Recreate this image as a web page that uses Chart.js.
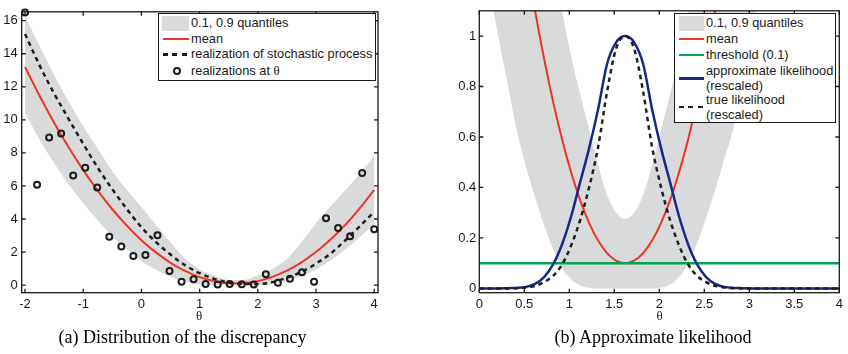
<!DOCTYPE html>
<html>
<head>
<meta charset="utf-8">
<script src="https://cdn.jsdelivr.net/npm/chart.js@4.4.0/dist/chart.umd.min.js"></script>
<style>
html,body{margin:0;padding:0;background:#fff;}
#wrap{position:relative;width:848px;height:354px;overflow:hidden;background:#fff;}
canvas{position:absolute;top:0;}
.box{position:absolute;box-sizing:border-box;border:1.2px solid #1a1a1a;background:#fff;}
.t{position:absolute;font:12.8px/16px "Liberation Sans",Arial,sans-serif;color:#1a1a1a;white-space:nowrap;}
.sw{position:absolute;}
.dash{position:absolute;height:2.5px;background:repeating-linear-gradient(to right,#1e1e1e 0 5px,rgba(0,0,0,0) 5px 9.5px);}
.mk{position:absolute;box-sizing:border-box;width:8px;height:8px;border:2px solid #1c1c1c;border-radius:50%;}
.ser{font-family:"Liberation Serif","Times New Roman",serif;}
.xl{position:absolute;font:13px/16px "Liberation Serif","Times New Roman",serif;color:#1a1a1a;transform:translateX(-50%);}
.cap{position:absolute;font:18px/20px "Liberation Serif","Times New Roman",serif;color:#000;white-space:nowrap;transform:translateX(-50%);}
</style>
</head>
<body>
<div id="wrap">
  <canvas id="cA" width="420" height="330" style="left:0px"></canvas>
  <canvas id="cB" width="424" height="330" style="left:424px"></canvas>

  <!-- legend (a) -->
  <div class="box" style="left:157.5px;top:13px;width:218.5px;height:67.5px;"></div>
  <div class="sw" style="left:162px;top:16px;width:27px;height:15px;background:#d9dadb;"></div>
  <div class="t" style="left:191px;top:15.3px;">0.1, 0.9 quantiles</div>
  <div class="sw" style="left:162.5px;top:38px;width:26px;height:2px;background:rgb(238,52,36);"></div>
  <div class="t" style="left:191px;top:31px;">mean</div>
  <div class="dash" style="left:162.5px;top:53px;width:26px;"></div>
  <div class="t" style="left:191px;top:46.3px;">realization of stochastic process</div>
  <div class="mk" style="left:172.7px;top:66.7px;"></div>
  <div class="t" style="left:191px;top:62.7px;">realizations at <span class="ser">θ</span></div>

  <!-- legend (b) -->
  <div class="box" style="left:674.3px;top:13.3px;width:161.5px;height:109.5px;"></div>
  <div class="sw" style="left:678.5px;top:16px;width:25.5px;height:15px;background:#d9dadb;"></div>
  <div class="t" style="left:706px;top:15.3px;">0.1, 0.9 quantiles</div>
  <div class="sw" style="left:679px;top:38px;width:25px;height:2px;background:rgb(238,52,36);"></div>
  <div class="t" style="left:706px;top:31px;">mean</div>
  <div class="sw" style="left:679px;top:53.8px;width:25px;height:2.5px;background:rgb(0,166,81);"></div>
  <div class="t" style="left:706px;top:47px;">threshold (0.1)</div>
  <div class="sw" style="left:679px;top:77.2px;width:25px;height:2.5px;background:rgb(23,40,138);"></div>
  <div class="t" style="left:706px;top:62.7px;">approximate likelihood</div>
  <div class="t" style="left:706px;top:77.7px;">(rescaled)</div>
  <div class="dash" style="left:679px;top:105.5px;width:25px;"></div>
  <div class="t" style="left:706px;top:92px;">true likelihood</div>
  <div class="t" style="left:706px;top:107px;">(rescaled)</div>

  <!-- axis labels -->
  <div class="xl" style="left:199px;top:308px;">θ</div>
  <div class="xl" style="left:659.5px;top:308px;">θ</div>

  <!-- captions -->
  <div class="cap" style="left:182.5px;top:327px;">(a) Distribution of the discrepancy</div>
  <div class="cap" style="left:653px;top:327px;">(b) Approximate likelihood</div>
</div>

<script>
// ---------------- data: panel (a) ----------------
const leftXTicks = [-2, -1, 0, 1, 2, 3, 4];
const leftYTicks = [0, 2, 4, 6, 8, 10, 12, 14, 16];

const thetaA = [-2, -1.75, -1.5, -1.25, -1, -0.75, -0.5, -0.25, 0, 0.25, 0.5, 0.75, 1,
                1.25, 1.5, 1.75, 2, 2.25, 2.5, 2.75, 3, 3.25, 3.5, 3.75, 4];
const meanA = [13.20, 11.46, 9.83, 8.34, 6.96, 5.72, 4.59, 3.60, 2.72, 1.98, 1.35, 0.86, 0.48,
               0.24, 0.11, 0.12, 0.24, 0.50, 0.87, 1.38, 2.00, 2.76, 3.63, 4.64, 5.76];
const q10A = [10.4, 8.81, 7.38, 6.09, 4.96, 3.92, 2.94, 2.15, 1.45, 0.93, 0.5, 0.22, 0.04,
              0.002, 0, 0, 0, 0.06, 0.26, 0.55, 0.95, 1.49, 2.14, 2.89, 3.7];
const q90A = [16.3, 14.46, 12.73, 11.09, 9.61, 8.27, 6.89, 5.75, 4.72, 3.62, 2.58, 1.62, 0.95,
              0.58, 0.31, 0.31, 0.6, 0.98, 1.6, 2.6, 3.75, 4.76, 5.73, 6.74, 7.81];
const realizationA = [15.2, 13.3, 11.6, 10.05, 8.55, 7.1, 5.8, 4.6, 3.5, 2.6, 1.85, 1.2, 0.72,
                      0.38, 0.16, 0.06, 0.06, 0.18, 0.45, 0.8, 1.3, 1.9, 2.7, 3.55, 4.45];

const thetaObs = [-2, -1.793, -1.586, -1.379, -1.172, -0.966, -0.759, -0.552, -0.345, -0.138,
                  0.069, 0.276, 0.483, 0.690, 0.897, 1.103, 1.310, 1.517, 1.724, 1.931,
                  2.138, 2.345, 2.552, 2.759, 2.966, 3.172, 3.379, 3.586, 3.793, 4.0];
const obsValues = [16.5, 6.08, 8.94, 9.18, 6.64, 7.1, 5.9, 2.92, 2.34, 1.76,
                   1.82, 3.02, 0.86, 0.2, 0.36, 0.06, 0.04, 0.06, 0.05, 0.04,
                   0.66, 0.14, 0.38, 0.78, 0.2, 4.04, 3.46, 2.96, 6.78, 3.38];

// ---------------- data: panel (b) ----------------
const rightXTicks = [0, 0.5, 1, 1.5, 2, 2.5, 3, 3.5, 4];
const rightYTicks = [0, 0.2, 0.4, 0.6, 0.8, 1];

const thetaB = [0, 0.12, 0.22, 0.32, 0.42, 0.52, 0.62, 0.72, 0.82, 0.92, 1.02, 1.12, 1.22, 1.32,
                1.42, 1.52, 1.62, 1.72, 1.82, 1.92, 2.02, 2.12, 2.22, 2.32, 2.42, 2.52, 2.62,
                2.72, 2.82, 2.92, 3.02, 3.12, 3.22, 3.32, 3.42, 3.52, 3.62, 3.72, 3.82, 3.92, 4.0];
const meanB = [2.72, 2.35, 2.06, 1.79, 1.54, 1.31, 1.10, 0.91, 0.74, 0.59, 0.46, 0.35, 0.26, 0.19,
               0.14, 0.11, 0.10, 0.11, 0.14, 0.19, 0.26, 0.35, 0.46, 0.59, 0.74, 0.91, 1.10,
               1.31, 1.54, 1.79, 2.06, 2.35, 2.66, 2.99, 3.34, 3.71, 4.10, 4.51, 4.94, 5.39, 5.76];
const q10B = [1.45, 1.18, 0.98, 0.80, 0.62, 0.48, 0.36, 0.25, 0.155, 0.08, 0.035, 0.012, 0.003, 0,
              0, 0, 0, 0, 0, 0, 0.003, 0.015, 0.045, 0.1, 0.18, 0.28, 0.39,
              0.51, 0.63, 0.8, 0.99, 1.2, 1.42, 1.66, 1.92, 2.2, 2.5, 2.8, 3.1, 3.45, 3.7];
const q90B = [4.72, 4.1, 3.65, 3.2, 2.8, 2.4, 2.0, 1.62, 1.32, 1.1, 0.92, 0.77, 0.63, 0.49,
              0.37, 0.30, 0.276, 0.30, 0.37, 0.49, 0.63, 0.77, 0.92, 1.1, 1.32, 1.62, 2.0,
              2.4, 2.8, 3.2, 3.65, 4.1, 4.5, 4.9, 5.3, 5.75, 6.2, 6.65, 7.1, 7.55, 7.81];
const approxLikB = [0, 0, 0, 0.001, 0.002, 0.006, 0.018, 0.045, 0.095, 0.175, 0.285, 0.42, 0.555, 0.71,
                    0.89, 0.975, 1.0, 0.975, 0.89, 0.71, 0.555, 0.42, 0.285, 0.175, 0.095, 0.045, 0.018,
                    0.006, 0.002, 0.001, 0, 0, 0, 0, 0, 0, 0, 0, 0, 0, 0];
const trueLikB = [0, 0, 0, 0, 0.001, 0.004, 0.01, 0.025, 0.05, 0.095, 0.17, 0.27, 0.40, 0.56,
                  0.78, 0.95, 1.0, 0.95, 0.78, 0.56, 0.40, 0.27, 0.17, 0.095, 0.05, 0.025, 0.01,
                  0.004, 0.001, 0, 0, 0, 0, 0, 0, 0, 0, 0, 0, 0, 0];
const threshold = 0.1;

// ---------------- styling ----------------
const RED = 'rgb(238,52,36)', GREEN = 'rgb(0,166,81)', BLUE = 'rgb(23,40,138)';
const DARK = '#1e1e1e', BAND = '#d9dadb', NONE = 'rgba(0,0,0,0)';

Chart.defaults.font.family = '"Liberation Sans", Arial, Helvetica, sans-serif';
Chart.defaults.font.size = 13;
Chart.defaults.color = '#1a1a1a';

const framePlugin = {
  id: 'frame',
  afterDatasetsDraw(chart, args, opts) {
    const ctx = chart.ctx, a = chart.chartArea;
    const xs = chart.scales.x, ys = chart.scales.y;
    ctx.save();
    ctx.strokeStyle = '#1a1a1a';
    ctx.lineWidth = 1.3;
    ctx.strokeRect(a.left, a.top, a.right - a.left, a.bottom - a.top);
    const L = 4;
    ctx.beginPath();
    opts.xTicks.forEach(v => {
      const p = xs.getPixelForValue(v);
      ctx.moveTo(p, a.bottom); ctx.lineTo(p, a.bottom - L);
      ctx.moveTo(p, a.top); ctx.lineTo(p, a.top + L);
    });
    opts.yTicks.forEach(v => {
      const p = ys.getPixelForValue(v);
      ctx.moveTo(a.left, p); ctx.lineTo(a.left + L, p);
      ctx.moveTo(a.right, p); ctx.lineTo(a.right - L, p);
    });
    ctx.stroke();
    ctx.restore();
  }
};

function pts(xs, ys) { return xs.map((x, i) => ({ x: x, y: ys[i] })); }

function scaleX(min, max, ticks, height) {
  return {
    type: 'linear', min: min, max: max,
    afterBuildTicks: s => { s.ticks = ticks.map(v => ({ value: v })); },
    afterFit: s => { s.height = height; },
    grid: { display: false, drawTicks: false },
    border: { display: false },
    ticks: { padding: 3.5, autoSkip: false, maxRotation: 0, minRotation: 0, callback: v => String(v) }
  };
}
function scaleY(min, max, ticks, width, pad) {
  return {
    type: 'linear', min: min, max: max,
    afterBuildTicks: s => { s.ticks = ticks.map(v => ({ value: v })); },
    afterFit: s => { s.width = width; },
    grid: { display: false, drawTicks: false },
    border: { display: false },
    ticks: { padding: pad, autoSkip: false, callback: v => String(v) }
  };
}
const lineBase = { pointRadius: 0, cubicInterpolationMode: 'monotone', fill: false };

new Chart(document.getElementById('cA'), {
  type: 'line',
  data: {
    datasets: [
      Object.assign({}, lineBase, { data: pts(thetaA, q10A), borderColor: NONE, borderWidth: 1, order: 10 }),
      Object.assign({}, lineBase, { data: pts(thetaA, q90A), borderColor: NONE, borderWidth: 1, order: 9,
        fill: '-1', backgroundColor: BAND }),
      Object.assign({}, lineBase, { data: pts(thetaA, meanA), borderColor: RED, borderWidth: 2, order: 3 }),
      Object.assign({}, lineBase, { data: pts(thetaA, realizationA), borderColor: DARK, borderWidth: 2.5,
        borderDash: [4.5, 4], order: 2 }),
      { data: pts(thetaObs, obsValues), showLine: false, pointRadius: 3, pointBorderWidth: 2,
        pointBorderColor: '#1c1c1c', pointBackgroundColor: NONE, order: 1, clip: false }
    ]
  },
  options: {
    responsive: false, animation: false, events: [],
    layout: { padding: { top: 9.3, right: 42, bottom: 0, left: 0 } },
    scales: {
      x: scaleX(-2.057, 4.065, leftXTicks, 37.3),
      y: scaleY(-0.46, 16.54, leftYTicks, 21.7, 4)
    },
    plugins: {
      legend: { display: false }, tooltip: { enabled: false },
      frame: { xTicks: leftXTicks, yTicks: leftYTicks }
    }
  },
  plugins: [framePlugin]
});

new Chart(document.getElementById('cB'), {
  type: 'line',
  data: {
    datasets: [
      Object.assign({}, lineBase, { data: pts(thetaB, q10B), borderColor: NONE, borderWidth: 1, order: 10 }),
      Object.assign({}, lineBase, { data: pts(thetaB, q90B), borderColor: NONE, borderWidth: 1, order: 9,
        fill: '-1', backgroundColor: BAND }),
      Object.assign({}, lineBase, { data: pts(thetaB, meanB), borderColor: RED, borderWidth: 2, order: 4 }),
      Object.assign({}, lineBase, { data: [{ x: thetaB[0], y: threshold }, { x: thetaB[thetaB.length - 1], y: threshold }],
        borderColor: GREEN, borderWidth: 2.5, order: 3, cubicInterpolationMode: 'default' }),
      Object.assign({}, lineBase, { data: pts(thetaB, approxLikB), borderColor: BLUE, borderWidth: 2.5, order: 2 }),
      Object.assign({}, lineBase, { data: pts(thetaB, trueLikB), borderColor: DARK, borderWidth: 2.5,
        borderDash: [4.5, 4], order: 1 })
    ]
  },
  options: {
    responsive: false, animation: false, events: [],
    layout: { padding: { top: 9.3, right: 8.7, bottom: 0, left: 0 } },
    scales: {
      x: scaleX(0, 4, rightXTicks, 37.3),
      y: scaleY(-0.017, 1.1, rightYTicks, 55.3, 3)
    },
    plugins: {
      legend: { display: false }, tooltip: { enabled: false },
      frame: { xTicks: rightXTicks, yTicks: rightYTicks }
    }
  },
  plugins: [framePlugin]
});
</script>
</body>
</html>
